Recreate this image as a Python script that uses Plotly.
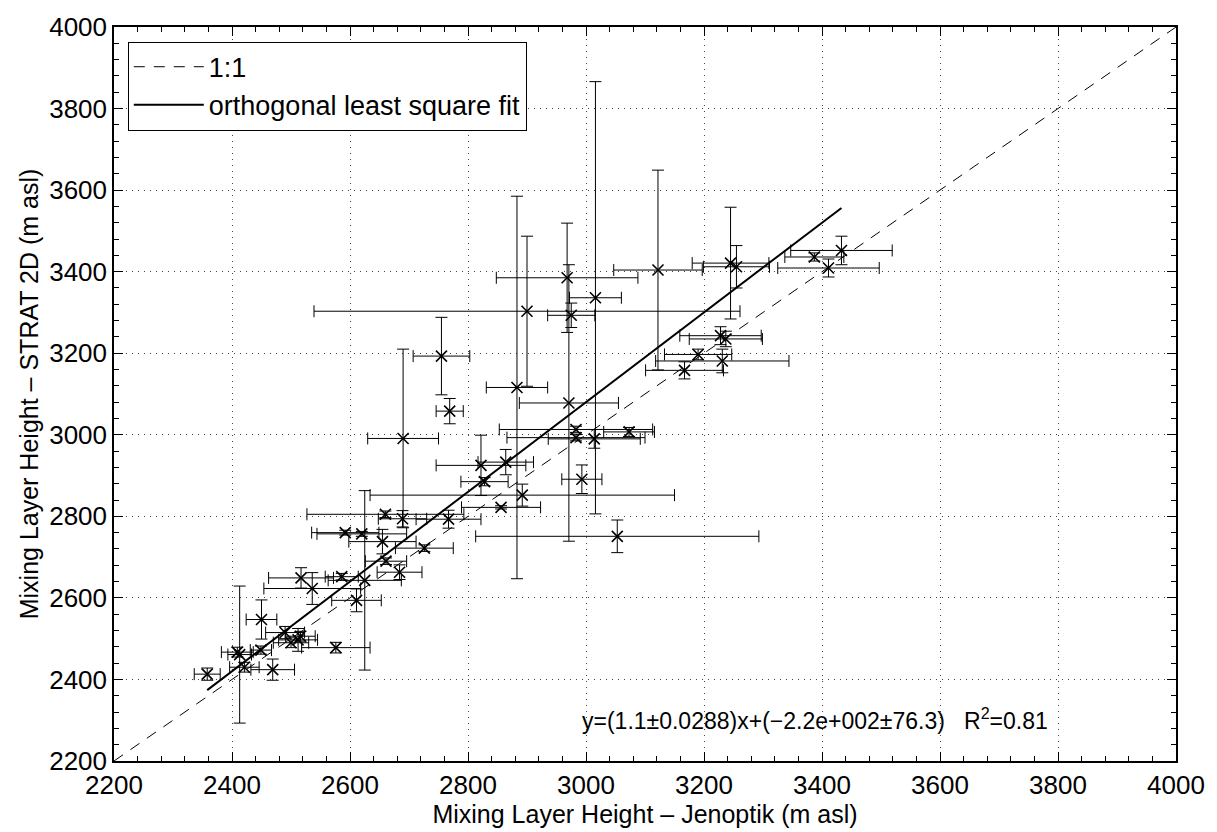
import plotly.graph_objects as go

# Mixing layer heights (m asl)
jenoptik = [2358, 2409, 2413, 2421, 2449, 2450, 2469, 2490, 2500, 2512, 2516,
            2517, 2536, 2576, 2586, 2611, 2625, 2592, 2620, 2655, 2660, 2689,
            2661, 2684, 2726, 2767, 2690, 2755, 2769, 2822, 2828, 2864, 2856,
            2892, 2883, 2900, 2968, 2975, 2971, 2983, 2983, 3014, 3073, 2993,
            3053, 3016, 3122, 3245, 3255, 3228, 3237, 3190, 3231, 3167, 3387,
            3411, 3433]
strat2d = [2413, 2467, 2461, 2430, 2472, 2547, 2424, 2515, 2490, 2497, 2506,
           2649, 2623, 2478, 2652, 2594, 2643, 2760, 2757, 2738, 2805, 2794,
           2690, 2663, 2722, 2793, 2991, 3193, 3058, 2925, 2885, 2933, 2822,
           2852, 3116, 3303, 3385, 3293, 3078, 3013, 2993, 2990, 3007, 2891,
           2751, 3336, 3404, 3421, 3412, 3243, 3235, 3197, 3181, 3158, 3436,
           3409, 3452]
jenoptik_err = [22, 27, 20, 25, 18, 26, 37, 33, 30, 33, 25,
                55, 82, 58, 28, 42, 62, 57, 76, 57, 133, 41,
                35, 38, 49, 55, 60, 48, 23, 76, 40, 47, 67,
                258, 52, 361, 120, 40, 84, 130, 117, 78, 43, 34,
                240, 44, 75, 65, 56, 69, 62, 57, 113, 66, 50,
                86, 86]
strat2d_err = [15, 12, 168, 12, 10, 48, 26, 15, 12, 28, 12,
               25, 39, 13, 8, 28, 220, 6, 6, 30, 8, 20,
               8, 18, 8, 22, 219, 95, 31, 74, 10, 31, 4,
               27, 469, 184, 134, 30, 339, 8, 8, 23, 11, 35,
               40, 530, 245, 137, 52, 22, 19, 13, 29, 21, 10,
               22, 35]

# fit coefficients (from annotation)
slope = 1.1
intercept = -220
one_to_one = [2200, 4000]

FONT = "Liberation Sans, Arial, Helvetica, sans-serif"

fig = go.Figure()

fig.add_trace(go.Scatter(
    x=one_to_one, y=one_to_one, mode="lines", name="1:1",
    line=dict(color="black", width=1, dash="11px,9px"),
))
fit_x = [min(jenoptik), max(jenoptik)]
fit_y = [slope * v + intercept for v in fit_x]
fig.add_trace(go.Scatter(
    x=fit_x, y=fit_y, mode="lines", name="orthogonal least square fit",
    line=dict(color="black", width=2),
))
fig.add_trace(go.Scatter(
    x=jenoptik, y=strat2d, mode="markers", showlegend=False,
    marker=dict(symbol="x-thin", size=11, color="black",
                line=dict(width=1.6, color="black")),
    error_x=dict(type="data", array=jenoptik_err, symmetric=True,
                 color="black", thickness=1, width=6),
    error_y=dict(type="data", array=strat2d_err, symmetric=True,
                 color="black", thickness=1, width=6),
))

axis_common = dict(
    range=[2200, 4000], dtick=200, tick0=2200,
    showline=True, linecolor="black", linewidth=1.5, mirror="allticks",
    ticks="inside", ticklen=9, tickcolor="black", tickwidth=1,
    showgrid=True, gridcolor="#444", gridwidth=1, griddash="1px,5px",
    zeroline=False, ticklabeloverflow="allow",
    tickfont=dict(family=FONT, size=26, color="black"),
    minor=dict(dtick=40, ticks="inside", ticklen=5, tickcolor="black",
               showgrid=False),
)

fig.update_xaxes(**axis_common,
                 title=dict(text="Mixing Layer Height \u2013 Jenoptik (m asl)",
                            font=dict(family=FONT, size=25, color="black"),
                            standoff=2))
fig.update_yaxes(**axis_common,
                 title=dict(text="Mixing Layer Height \u2013 STRAT 2D (m asl)",
                            font=dict(family=FONT, size=25, color="black"),
                            standoff=3))

fig.add_annotation(
    x=2990, y=2302, xref="x", yref="y", xanchor="left", yanchor="middle",
    text="y=(1.1\u00b10.0288)x+(\u22122.2e+002\u00b176.3)   R<sup>2</sup>=0.81",
    showarrow=False, font=dict(family=FONT, size=23, color="black"),
)

fig.update_layout(
    width=1217, height=832,
    margin=dict(l=114, r=38, t=14, b=71),
    paper_bgcolor="white", plot_bgcolor="white",
    legend=dict(x=0.013, y=0.98, xanchor="left", yanchor="top",
                bgcolor="white", bordercolor="black", borderwidth=1,
                font=dict(family=FONT, size=27, color="black"),
                itemwidth=70, tracegroupgap=0),
    showlegend=True,
)

fig.write_html("out.html")
